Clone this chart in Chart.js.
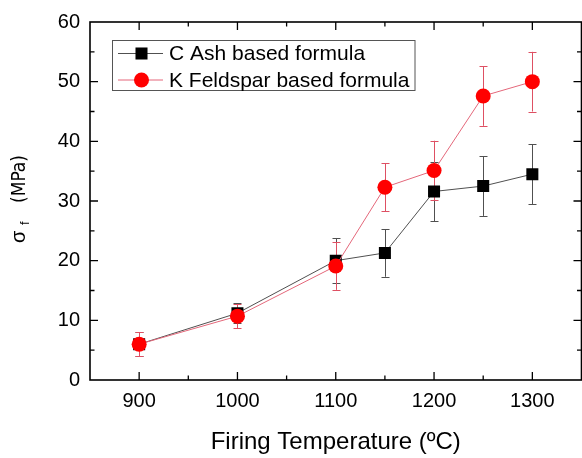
<!DOCTYPE html>
<html>
<head>
<meta charset="utf-8">
<script src="https://cdn.jsdelivr.net/npm/chart.js@4.4.1/dist/chart.umd.min.js"></script>
<style>
  html, body { margin: 0; padding: 0; background: #fff; overflow: hidden; }
  #wrap { width: 590px; height: 458px; }
</style>
</head>
<body>
<div id="wrap"><canvas id="c" width="590" height="458"></canvas></div>
<script>
// Firing temperature (°C)
const temperatures = [900, 1000, 1100, 1150, 1200, 1250, 1300];
// Flexural strength (MPa) and standard deviations
const cAshStrength = [6.0, 11.2, 20.0, 21.3, 31.6, 32.5, 34.5];
const cAshError    = [2.0, 1.7, 3.8, 4.0, 5.0, 5.0, 5.0];
const kFeldStrength = [6.0, 10.7, 19.1, 32.3, 35.1, 47.6, 50.0];
const kFeldError    = [2.0, 2.0, 4.0, 4.0, 5.0, 5.0, 5.0];

const seriesLabels = ['C Ash based formula', 'K Feldspar based formula'];
const xMajorTicks = [900, 1000, 1100, 1200, 1300];
const xMinorTicks = [950, 1050, 1150, 1250];
const yMajorTicks = [0, 10, 20, 30, 40, 50, 60];
const yMinorTicks = [5, 15, 25, 35, 45, 55];
const xTitle = 'Firing Temperature (ºC)';

const FONT = "'Liberation Sans', Arial, sans-serif";
const NARROW = "'Liberation Sans Narrow', 'DejaVu Sans Condensed', 'Liberation Sans', sans-serif";

const styles = [
  { line: '#505050', err: '#505050', fill: '#000000', point: 'rect', radius: 8.5 },
  { line: '#e4677a', err: '#de5063', fill: '#ff0000', point: 'circle', radius: 7.5 }
];

const toPoints = (ys) => temperatures.map((t, i) => ({ x: t, y: ys[i] }));

const errors = [cAshError, kFeldError];

// Error bars, inward tick marks, box legend and subscripted y title
const decorations = {
  id: 'decorations',
  beforeDatasetsDraw(chart) {
    const ctx = chart.ctx;
    const xs = chart.scales.x, ys = chart.scales.y;
    ctx.save();
    chart.data.datasets.forEach((ds, d) => {
      ctx.strokeStyle = styles[d].err;
      ctx.lineWidth = 1;
      ds.data.forEach((p, i) => {
        const e = errors[d][i];
        const px = Math.round(xs.getPixelForValue(p.x)) + 0.5;
        const top = ys.getPixelForValue(p.y + e);
        const bot = ys.getPixelForValue(p.y - e);
        ctx.beginPath();
        ctx.moveTo(px, top); ctx.lineTo(px, bot);
        ctx.moveTo(px - 4, Math.round(top) + 0.5); ctx.lineTo(px + 4, Math.round(top) + 0.5);
        ctx.moveTo(px - 4, Math.round(bot) + 0.5); ctx.lineTo(px + 4, Math.round(bot) + 0.5);
        ctx.stroke();
      });
    });
    ctx.restore();
  },
  afterDraw(chart) {
    const ctx = chart.ctx;
    const a = chart.chartArea;
    const xs = chart.scales.x, ys = chart.scales.y;
    ctx.save();
    ctx.strokeStyle = '#000';
    ctx.lineWidth = 1.6;
    ctx.strokeRect(a.left, a.top, a.right - a.left, a.bottom - a.top);

    ctx.lineWidth = 1.3;
    ctx.beginPath();
    const xTick = (v, len) => {
      const px = xs.getPixelForValue(v);
      ctx.moveTo(px, a.bottom); ctx.lineTo(px, a.bottom - len);
      ctx.moveTo(px, a.top); ctx.lineTo(px, a.top + len);
    };
    const yTick = (v, len) => {
      const py = ys.getPixelForValue(v);
      ctx.moveTo(a.left, py); ctx.lineTo(a.left + len, py);
      ctx.moveTo(a.right, py); ctx.lineTo(a.right - len, py);
    };
    xMajorTicks.forEach(v => xTick(v, 8));
    xMinorTicks.forEach(v => xTick(v, 4.5));
    yMajorTicks.slice(1, -1).forEach(v => yTick(v, 8));
    yMinorTicks.forEach(v => yTick(v, 4.5));
    ctx.stroke();

    // legend box
    const lx = 112.5, ly = 40.5, lw = 302.5, lh = 50;
    ctx.lineWidth = 1;
    ctx.strokeStyle = '#555';
    ctx.strokeRect(lx, ly, lw, lh);
    const rows = [53.5, 80];
    chart.data.datasets.forEach((ds, d) => {
      const y = rows[d];
      const s = styles[d];
      ctx.strokeStyle = s.line;
      ctx.lineWidth = 1;
      ctx.beginPath();
      ctx.moveTo(118, y); ctx.lineTo(163, y);
      ctx.stroke();
      ctx.fillStyle = s.fill;
      if (s.point === 'rect') {
        const h = s.radius * Math.SQRT1_2;
        ctx.fillRect(141.5 - h, y - h, 2 * h, 2 * h);
      } else {
        ctx.beginPath();
        ctx.arc(141.5, y, s.radius, 0, Math.PI * 2);
        ctx.fill();
      }
      ctx.fillStyle = '#000';
      ctx.font = '21px ' + FONT;
      ctx.textAlign = 'left';
      ctx.textBaseline = 'middle';
      ctx.fillText(ds.label, 169, y + 1);
    });

    // rotated y title: σ_f (MPa)
    ctx.translate(25, 243);
    ctx.rotate(-Math.PI / 2);
    ctx.fillStyle = '#000';
    ctx.textAlign = 'left';
    ctx.textBaseline = 'alphabetic';
    ctx.font = '20px ' + FONT;
    ctx.fillText('σ', 0, 0);
    ctx.font = '13px ' + FONT;
    ctx.fillText('f', 18, 4);
    ctx.font = '19px ' + NARROW;
    ctx.fillText('(MPa)', 40, 0);
    ctx.restore();
  }
};

new Chart(document.getElementById('c'), {
  type: 'line',
  data: {
    datasets: [
      {
        label: seriesLabels[0],
        data: toPoints(cAshStrength),
        borderColor: styles[0].line,
        borderWidth: 1,
        backgroundColor: styles[0].fill,
        pointStyle: styles[0].point,
        pointRadius: styles[0].radius,
        pointBorderWidth: 0,
        pointBackgroundColor: styles[0].fill,
        pointBorderColor: styles[0].fill,
        tension: 0,
        order: 1
      },
      {
        label: seriesLabels[1],
        data: toPoints(kFeldStrength),
        borderColor: styles[1].line,
        borderWidth: 1,
        backgroundColor: styles[1].fill,
        pointStyle: styles[1].point,
        pointRadius: styles[1].radius,
        pointBorderWidth: 0,
        pointBackgroundColor: styles[1].fill,
        pointBorderColor: styles[1].fill,
        tension: 0,
        order: 0
      }
    ]
  },
  options: {
    responsive: false,
    animation: false,
    events: [],
    layout: { padding: { top: 17, right: 7, left: 0, bottom: 0 } },
    plugins: { legend: { display: false }, tooltip: { enabled: false }, title: { display: false } },
    scales: {
      x: {
        type: 'linear',
        min: 850,
        max: 1350,
        afterBuildTicks: (s) => { s.ticks = xMajorTicks.map(v => ({ value: v })); },
        afterFit: (s) => { s.height = 78; },
        grid: { display: false, drawTicks: false },
        border: { display: false },
        ticks: {
          autoSkip: false,
          maxRotation: 0,
          padding: 9,
          color: '#000',
          font: { family: FONT, size: 20 },
          callback: (v) => String(v)
        },
        title: {
          display: true,
          text: xTitle,
          color: '#000',
          font: { family: FONT, size: 24 },
          padding: { top: 0, bottom: 1 }
        }
      },
      y: {
        type: 'linear',
        min: 0,
        max: 60,
        afterBuildTicks: (s) => { s.ticks = yMajorTicks.map(v => ({ value: v })); },
        afterFit: (s) => { s.width = 90; },
        grid: { display: false, drawTicks: false },
        border: { display: false },
        ticks: {
          padding: 10,
          color: '#000',
          font: { family: FONT, size: 20 },
          callback: (v) => String(v)
        }
      }
    }
  },
  plugins: [decorations]
});
</script>
</body>
</html>
